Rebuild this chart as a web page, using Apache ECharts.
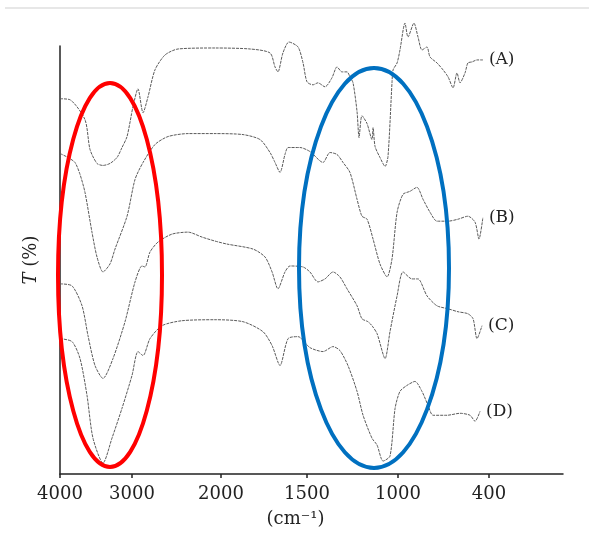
<!DOCTYPE html>
<html>
<head>
<meta charset="utf-8">
<script src="https://cdn.jsdelivr.net/npm/echarts@6/dist/echarts.min.js"></script>
<style>
  html, body { margin: 0; padding: 0; background: #fff; }
  #main { width: 589px; height: 533px; }
</style>
</head>
<body>
<div id="main"></div>
<script>
// tick labels of the wavenumber axis (printed scale is uneven)
var tickWn = [4000, 3000, 2000, 1500, 1000, 400];
var tickPos = [0, 72, 161, 247, 338, 429];

var labels = ['(A)', '(B)', '(C)', '(D)'];

// [wavenumber cm-1, T (arbitrary, offset per curve)]
var specA = [
  [4000, 377], [3861, 376], [3653, 356], [3583, 326], [3486, 312], [3403, 310], [3306, 312],
  [3208, 318], [3139, 328], [3069, 339], [2989, 369], [2933, 387], [2876, 363], [2820, 379],
  [2742, 406], [2629, 421], [2483, 427], [2067, 428], [1831, 427], [1715, 423], [1686, 409],
  [1669, 404], [1640, 423], [1605, 434], [1552, 429], [1523, 413], [1500, 394], [1467, 391],
  [1440, 393], [1401, 389], [1363, 398], [1335, 409], [1308, 404], [1280, 404], [1264, 399],
  [1247, 393], [1225, 364], [1214, 338], [1198, 360], [1170, 352], [1143, 336], [1137, 348],
  [1126, 329], [1099, 318], [1071, 309], [1055, 319], [1033, 393], [1027, 406], [1005, 413],
  [987, 426], [954, 453], [934, 439], [895, 453], [868, 439], [842, 426], [809, 429],
  [789, 419], [743, 413], [703, 406], [670, 399], [637, 388], [611, 403], [591, 393],
  [558, 403], [539, 413], [512, 414], [479, 416], [440, 416]
];
var specB = [
  [4000, 322], [3889, 318], [3792, 313], [3722, 301], [3653, 283], [3556, 243], [3486, 218],
  [3403, 203], [3306, 211], [3236, 226], [3069, 259], [2966, 296], [2876, 313], [2742, 331],
  [2596, 339], [2371, 342], [2067, 342], [1872, 341], [1773, 336], [1715, 323], [1686, 313],
  [1657, 303], [1628, 321], [1610, 328], [1541, 328], [1484, 324], [1412, 313], [1374, 323],
  [1335, 321], [1302, 313], [1264, 303], [1225, 276], [1198, 259], [1170, 256], [1137, 236],
  [1099, 211], [1060, 198], [1033, 216], [1005, 263], [967, 281], [921, 284], [875, 288],
  [835, 276], [789, 263], [743, 254], [670, 254], [604, 256], [539, 259], [492, 253],
  [466, 236], [440, 258]
];
var specC = [
  [4000, 191], [3833, 189], [3694, 169], [3611, 139], [3514, 109], [3403, 96], [3264, 116],
  [3097, 153], [2966, 193], [2888, 209], [2854, 208], [2798, 223], [2708, 233], [2551, 241],
  [2371, 243], [2213, 238], [2067, 234], [1965, 231], [1814, 226], [1744, 218], [1703, 203],
  [1669, 186], [1628, 203], [1599, 209], [1523, 208], [1484, 203], [1440, 193], [1401, 196],
  [1357, 203], [1319, 198], [1280, 186], [1225, 169], [1198, 156], [1165, 153], [1143, 149],
  [1115, 141], [1071, 116], [1044, 143], [1005, 179], [967, 203], [908, 196], [868, 196],
  [809, 179], [743, 169], [670, 166], [604, 163], [539, 161], [505, 156], [479, 136], [446, 149]
];
var specD = [
  [4000, 136], [3833, 133], [3722, 116], [3625, 79], [3542, 36], [3403, 11], [3278, 36],
  [3139, 66], [3000, 99], [2933, 123], [2876, 119], [2798, 136], [2663, 149], [2438, 154],
  [2067, 155], [1872, 153], [1756, 143], [1703, 129], [1657, 109], [1610, 136], [1552, 138],
  [1484, 127], [1412, 123], [1357, 128], [1319, 124], [1275, 109], [1225, 83], [1192, 59],
  [1143, 36], [1115, 29], [1082, 13], [1044, 18], [1016, 66], [987, 83], [941, 89], [888, 93],
  [842, 83], [802, 69], [769, 59], [677, 59], [591, 61], [525, 59], [492, 53], [459, 63]
];

// piecewise linear wavenumber -> axis position
function toPos(wn) {
    var n = tickWn.length;
    for (var i = 0; i < n - 1; i++) {
        if (wn >= tickWn[i + 1] || i == n - 2) {
            var t = (tickWn[i] - wn) / (tickWn[i] - tickWn[i + 1]);
            return tickPos[i] + t * (tickPos[i + 1] - tickPos[i]);
        }
    }
}

function toSeries(spec, name) {
    return {
        name: name,
        type: 'line',
        data: spec.map(function(p) { return [toPos(p[0]), p[1]]; }),
        showSymbol: false,
        smooth: 0.25,
        clip: false,
        lineStyle: { color: '#5a5a5a', width: 1, type: [3, 1] },
        endLabel: {
            show: true,
            formatter: name,
            distance: 6,
            color: '#222',
            fontFamily: 'DejaVu Serif',
            fontSize: 17
        }
    };
}

var chart = echarts.init(document.getElementById('main'));
var serif = 'DejaVu Serif';

chart.setOption({
    animation: false,
    backgroundColor: '#fff',
    grid: { left: 60, right: 26, top: 46, bottom: 57 },
    xAxis: {
        type: 'value',
        min: 0,
        max: 503,
        name: '(cm⁻¹)',
        nameLocation: 'middle',
        nameGap: 36,
        nameTextStyle: { fontFamily: serif, fontSize: 18, color: '#222', padding: [0, 32, 0, 0] },
        axisLine: { lineStyle: { color: '#222', width: 1.5 } },
        axisTick: { show: true, length: 4, customValues: tickPos, lineStyle: { color: '#222', width: 1.5 } },
        axisLabel: {
            customValues: tickPos,
            margin: 11,
            fontFamily: serif,
            fontSize: 18,
            color: '#222',
            formatter: function(v) {
                var best = 0;
                for (var i = 0; i < tickPos.length; i++) {
                    if (Math.abs(tickPos[i] - v) < Math.abs(tickPos[best] - v)) best = i;
                }
                return tickWn[best];
            }
        },
        splitLine: { show: false }
    },
    yAxis: {
        type: 'value',
        min: 0,
        max: 430,
        name: '{i|T} (%)',
        nameLocation: 'middle',
        nameGap: 20,
        nameTextStyle: {
            fontFamily: serif, fontSize: 18, color: '#222',
            rich: { i: { fontFamily: serif, fontSize: 18, fontStyle: 'italic', color: '#222' } }
        },
        axisLine: { show: true, lineStyle: { color: '#222', width: 1.5 } },
        axisTick: { show: false },
        axisLabel: { show: false },
        splitLine: { show: false }
    },
    series: [
        toSeries(specA, labels[0]),
        toSeries(specB, labels[1]),
        toSeries(specC, labels[2]),
        toSeries(specD, labels[3])
    ],
    graphic: [
        { type: 'line', shape: { x1: 5, y1: 8, x2: 589, y2: 8 }, style: { stroke: '#cfcfcf', lineWidth: 1 } },
        { type: 'ellipse', shape: { cx: 110, cy: 275, rx: 52, ry: 192 }, style: { fill: null, stroke: '#ff0000', lineWidth: 4 }, z: 100 },
        { type: 'ellipse', shape: { cx: 374, cy: 268, rx: 75, ry: 200 }, style: { fill: null, stroke: '#0070c0', lineWidth: 4 }, z: 100 }
    ]
});
</script>
</body>
</html>
